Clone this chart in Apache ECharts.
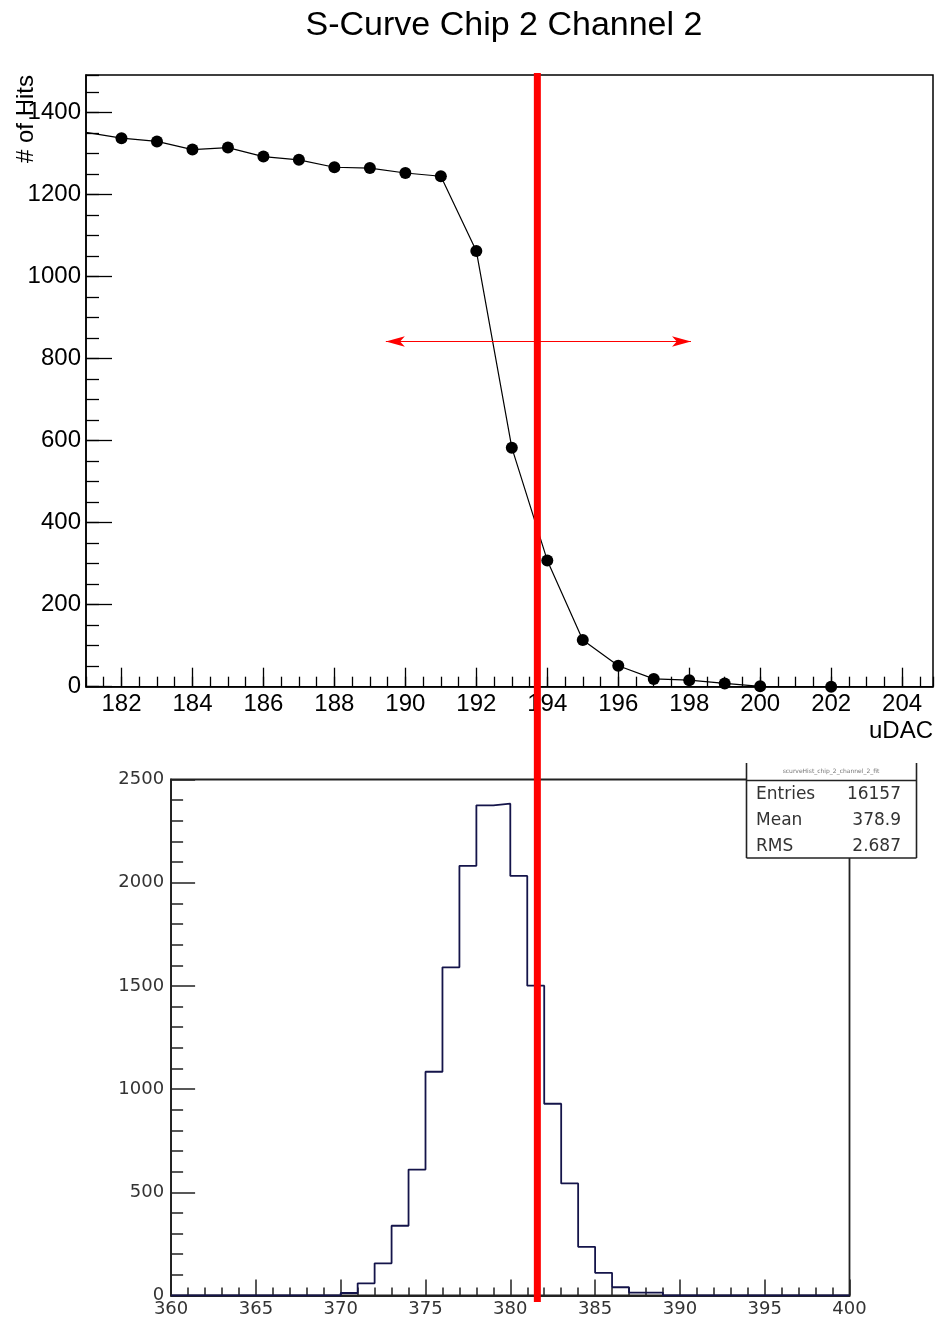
<!DOCTYPE html>
<html><head><meta charset="utf-8">
<script src="https://cdn.jsdelivr.net/npm/echarts@6/dist/echarts.min.js"></script>
<style>html,body{margin:0;padding:0;background:#fff}#c{width:938px;height:1322px}</style>
</head><body><div id="c"></div>
<script>
// ---- data ----
const scurveX = [181,182,183,184,185,186,187,188,189,190,191,192,193,194,195,196,197,198,199,200,202];
const scurveHits = [1352,1338,1330,1310,1315,1293,1285,1267,1265,1253,1245,1063,583,308,114,51,19,16,8,1,0];
const scurveTickLabels = [182,184,186,188,190,192,194,196,198,200,202,204];
const hitsTickLabels = [0,200,400,600,800,1000,1200,1400];
const thresholdX = 193.72;
const arrowRange = [189.45, 198.05];
const arrowY = 842;
const histBinStart = 370;
const histCounts = [12,59,156,338,610,1084,1590,2082,2375,2383,2033,1501,929,543,236,110,40,14,14];
const histRange = [360, 400];
const statsLabels = ['Entries','Mean','RMS'];
const statsValues = ['16157','378.9','2.687'];

// histogram outline points (bin left edge, count), step drawn by library
const histPoints = [];
for (let e = histRange[0]; e < histRange[1]; e++) {
  const i = e - histBinStart;
  histPoints.push([e, (i >= 0 && i < histCounts.length) ? histCounts[i] : 0]);
}
histPoints.push([histRange[1], 0]);

const scurveData = scurveX.map((x, i) => i === 0 ? {value:[x, scurveHits[i]], symbol:'none'} : [x, scurveHits[i]]);

const F = 'Liberation Sans, Arial, sans-serif';
const FB = 'DejaVu Sans, sans-serif';
const plain = v => String(v);
const chart = echarts.init(document.getElementById('c'), null, {renderer:'canvas'});

chart.setOption({
  animation: false,
  backgroundColor: '#fff',
  title: {text:'S-Curve Chip 2 Channel 2', left: 499, top: 4, textAlign:'center',
    textStyle:{fontFamily:F, fontSize:34, fontWeight:'normal', color:'#000'}},
  grid: [
    {left:86, right:5, top:75, height:611.7, show:true, borderColor:'#000', borderWidth:1.5, backgroundColor:'rgba(0,0,0,0)', containLabel:false, outerBoundsMode:'none'},
    {left:171.1, right:88.5, top:779.5, bottom:26.5, show:true, borderColor:'#222', borderWidth:1.8, backgroundColor:'rgba(0,0,0,0)', containLabel:false, outerBoundsMode:'none'}
  ],
  xAxis: [
    {type:'value', gridIndex:0, position:'bottom', min:181, max:204.87, interval:0.5,
      axisLine:{show:true, lineStyle:{color:'#000', width:1.5}},
      axisTick:{show:true, inside:true, length:10, lineStyle:{color:'#000', width:1.3}},
      axisLabel:{show:false}, splitLine:{show:false}},
    {type:'value', gridIndex:0, position:'bottom', min:181, max:204.87, interval:1,
      axisLine:{show:false},
      axisTick:{show:true, inside:true, length:19, customValues:scurveTickLabels, lineStyle:{color:'#000', width:1.3}},
      axisLabel:{show:true, customValues:scurveTickLabels, formatter:plain, margin:6, fontFamily:F, fontSize:24, color:'#000'},
      splitLine:{show:false}},
    {type:'value', gridIndex:1, min:histRange[0], max:histRange[1], interval:5,
      axisLine:{show:true, lineStyle:{color:'#222', width:1.8}},
      axisTick:{show:true, inside:true, length:16, lineStyle:{color:'#222', width:1.5}},
      minorTick:{show:true, splitNumber:5, length:8, lineStyle:{color:'#222', width:1.5}},
      axisLabel:{show:true, formatter:plain, margin:5, fontFamily:FB, fontSize:18, color:'#333'},
      splitLine:{show:false}}
  ],
  yAxis: [
    {type:'value', gridIndex:0, position:'left', min:0, max:1492, interval:50,
      axisLine:{show:true, lineStyle:{color:'#000', width:1.5}},
      axisTick:{show:true, inside:true, length:13, lineStyle:{color:'#000', width:1.3}},
      axisLabel:{show:false}, splitLine:{show:false}},
    {type:'value', gridIndex:0, position:'left', min:0, max:1492, interval:200,
      axisLine:{show:false},
      axisTick:{show:true, inside:true, length:26, customValues:hitsTickLabels, lineStyle:{color:'#000', width:1.3}},
      axisLabel:{show:true, customValues:hitsTickLabels, formatter:plain, margin:5, fontFamily:F, fontSize:24, color:'#000'},
      splitLine:{show:false}},
    {type:'value', gridIndex:1, min:0, max:2500, interval:500,
      axisLine:{show:true, lineStyle:{color:'#222', width:1.8}},
      axisTick:{show:true, inside:true, length:24, lineStyle:{color:'#222', width:1.5}},
      minorTick:{show:true, splitNumber:5, length:12, lineStyle:{color:'#222', width:1.5}},
      axisLabel:{show:true, formatter:plain, margin:7, fontFamily:FB, fontSize:18, color:'#333'},
      splitLine:{show:false}}
  ],
  series: [
    {type:'line', xAxisIndex:1, yAxisIndex:1, data:scurveData, symbol:'circle', symbolSize:12,
      lineStyle:{color:'#000', width:1.2}, itemStyle:{color:'#000'}, clip:true, z:3,
      markLine:{silent:true, symbol:['arrow','arrow'], symbolSize:[8,19], label:{show:false},
        lineStyle:{color:'#ff0000', width:1.2, type:'solid'},
        data:[[{coord:[arrowRange[0], arrowY]}, {coord:[arrowRange[1], arrowY]}]]}},
    {type:'line', xAxisIndex:2, yAxisIndex:2, data:histPoints, step:'end', symbol:'none',
      lineStyle:{color:'#14144a', width:1.8}, z:3}
  ]
});

const px = chart.convertToPixel({xAxisIndex:1}, thresholdX);
const g = [
  {type:'rect', z:200, shape:{x:px-3.5, y:73, width:7, height:1229}, style:{fill:'#ff0000'}},
  {type:'text', z:50, rotation:Math.PI/2, x:26, y:75, style:{text:'# of Hits', fontFamily:F, fontSize:24, fill:'#000', align:'right', verticalAlign:'middle'}},
  {type:'text', z:50, x:933, y:731, style:{text:'uDAC', fontFamily:F, fontSize:24, fill:'#000', align:'right', verticalAlign:'middle'}},
  {type:'rect', z:100, shape:{x:746.5, y:763, width:170, height:95}, style:{fill:'#fff'}},
  {type:'line', z:101, shape:{x1:746.5, y1:763, x2:746.5, y2:858}, style:{stroke:'#222', lineWidth:1.6}},
  {type:'line', z:101, shape:{x1:916.5, y1:763, x2:916.5, y2:858}, style:{stroke:'#222', lineWidth:1.6}},
  {type:'line', z:101, shape:{x1:746.5, y1:858, x2:916.5, y2:858}, style:{stroke:'#222', lineWidth:1.6}},
  {type:'line', z:101, shape:{x1:746.5, y1:780.5, x2:916.5, y2:780.5}, style:{stroke:'#222', lineWidth:1.6}},
  {type:'text', z:101, x:831, y:771, style:{text:'scurveHist_chip_2_channel_2_fit', fontFamily:FB, fontSize:6, fill:'#777', align:'center', verticalAlign:'middle'}}
];
statsLabels.forEach((t, i) => {
  g.push({type:'text', z:101, x:756, y:795 + i*26, style:{text:t, fontFamily:FB, fontSize:17, fill:'#333', align:'left', verticalAlign:'middle'}});
  g.push({type:'text', z:101, x:901, y:795 + i*26, style:{text:statsValues[i], fontFamily:FB, fontSize:17, fill:'#333', align:'right', verticalAlign:'middle'}});
});
chart.setOption({graphic: g});
</script></body></html>
